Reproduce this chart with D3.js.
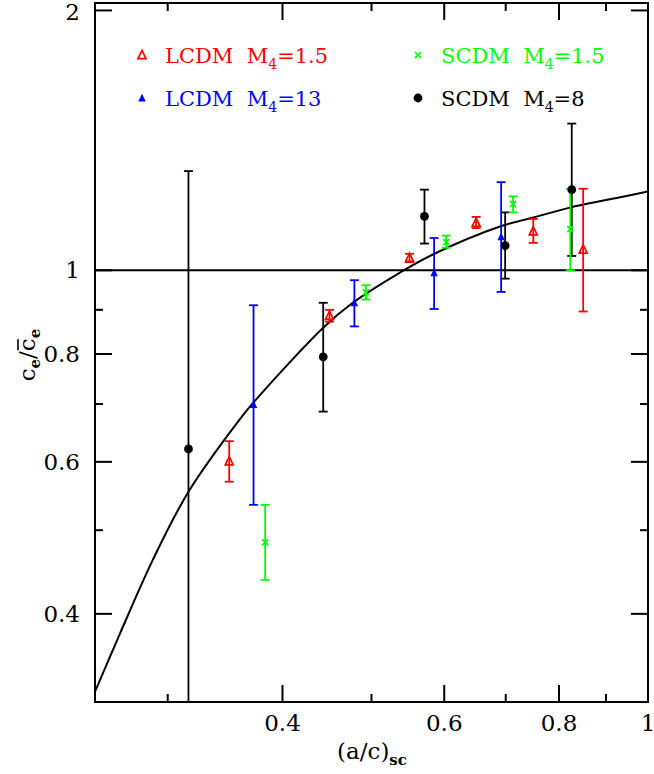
<!DOCTYPE html>
<html>
<head>
<meta charset="utf-8">
<script src="https://cdn.jsdelivr.net/npm/d3@7"></script>
<style>
  html, body { margin: 0; padding: 0; background: #fff; }
  svg { display: block; }
  text { font-family: "DejaVu Serif", "Liberation Serif", serif; }
</style>
</head>
<body>
<script>
// ---- data ----
const redX  = [0.35, 0.45, 0.55, 0.65, 0.75, 0.85];
const redY  = [0.601, 0.886, 1.034, 1.135, 1.110, 1.057];
const redLo = [0.569, 0.872, 1.022, 1.119, 1.076, 0.896];
const redHi = [0.634, 0.900, 1.045, 1.153, 1.147, 1.243];

const blueX  = [0.372, 0.479, 0.585, 0.692];
const blueY  = [0.699, 0.917, 0.993, 1.093];
const blueLo = [0.535, 0.861, 0.902, 0.944];
const blueHi = [0.911, 0.974, 1.090, 1.265];

const greenX  = [0.383, 0.493, 0.603, 0.713, 0.823];
const greenY  = [0.484, 0.943, 1.078, 1.194, 1.116];
const greenLo = [0.438, 0.925, 1.062, 1.167, 1.000];
const greenHi = [0.535, 0.961, 1.097, 1.218, 1.243];

const blackX  = [0.316, 0.443, 0.571, 0.699, 0.826];
const blackY  = [0.621, 0.794, 1.155, 1.068, 1.240];
const blackLo = [0.28, 0.686, 1.074, 0.978, 1.039];
const blackHi = [1.303, 0.917, 1.240, 1.167, 1.479];

const curveX = [0.25, 0.266, 0.289, 0.316, 0.359, 0.372, 0.443, 0.477, 0.537, 0.583, 0.690, 0.750, 0.822, 0.939, 1.0];
const curveY = [0.325, 0.379, 0.462, 0.554, 0.671, 0.703, 0.858, 0.917, 0.994, 1.043, 1.124, 1.151, 1.182, 1.217, 1.234];

const xMajor = [0.4, 0.6, 0.8, 1];
const xMinor = [0.3, 0.5, 0.7, 0.9];
const xTickLabels = ["0.4", "0.6", "0.8", "1"];
const yMajor = [0.4, 0.6, 0.8, 1, 2];
const yMinor = [0.5, 0.7, 0.9];
const yTickLabels = ["0.4", "0.6", "0.8", "1", "2"];

const legendNames = ["LCDM", "LCDM", "SCDM", "SCDM"];
const legendM = ["1.5", "13", "1.5", "8"];

// ---- layout ----
const W = 654, H = 774;
const L = 95, R = 648, T = 3, B = 702;
const x = d3.scaleLog().domain([0.25, 1]).range([L, R]);
const y = d3.scaleLog().domain([0.3162, 2.04]).range([B, T]);

const svg = d3.select("body").append("svg").attr("width", W).attr("height", H);

svg.append("clipPath").attr("id", "clip").append("rect")
  .attr("x", L).attr("y", T).attr("width", R - L).attr("height", B - T);

const plot = svg.append("g").attr("clip-path", "url(#clip)");

// model curve
plot.append("path")
  .datum(curveX.map((v, i) => [v, curveY[i]]))
  .attr("fill", "none").attr("stroke", "#000").attr("stroke-width", 2)
  .attr("d", d3.line().x(d => x(d[0])).y(d => y(d[1])).curve(d3.curveCatmullRom.alpha(0.5)));

// y = 1 reference line
plot.append("line")
  .attr("x1", L).attr("x2", R).attr("y1", y(1)).attr("y2", y(1))
  .attr("stroke", "#000").attr("stroke-width", 2);

// error bars
function errBars(xs, lo, hi, color) {
  const g = plot.append("g").attr("stroke", color).attr("stroke-width", 1.8).attr("fill", "none");
  xs.forEach((v, i) => {
    const cx = x(v);
    g.append("line").attr("x1", cx).attr("x2", cx).attr("y1", y(lo[i])).attr("y2", y(hi[i]));
    g.append("line").attr("x1", cx - 4.5).attr("x2", cx + 4.5).attr("y1", y(lo[i])).attr("y2", y(lo[i]));
    g.append("line").attr("x1", cx - 4.5).attr("x2", cx + 4.5).attr("y1", y(hi[i])).attr("y2", y(hi[i]));
  });
}
errBars(blackX, blackLo, blackHi, "#000");
errBars(blueX, blueLo, blueHi, "#0000ff");
errBars(greenX, greenLo, greenHi, "#00ff00");
errBars(redX, redLo, redHi, "#ff0000");

// marker shapes
function triPath(cx, cy, s) {
  const h = s * 0.9;
  return `M${cx},${cy - h / 2 - 1}L${cx + s / 2},${cy + h / 2}L${cx - s / 2},${cy + h / 2}Z`;
}
function drawOpenTri(g, cx, cy, color) {
  g.append("path").attr("d", triPath(cx, cy, 8)).attr("fill", "none").attr("stroke", color).attr("stroke-width", 1.7);
}
function drawFillTri(g, cx, cy, color) {
  g.append("path").attr("d", triPath(cx, cy, 7.5)).attr("fill", color).attr("stroke", "none");
}
function drawCross(g, cx, cy, color) {
  const s = 3;
  g.append("path").attr("d", `M${cx - s},${cy - s}L${cx + s},${cy + s}M${cx - s},${cy + s}L${cx + s},${cy - s}`)
    .attr("stroke", color).attr("stroke-width", 1.7).attr("fill", "none");
}
function drawDot(g, cx, cy, color) {
  g.append("circle").attr("cx", cx).attr("cy", cy).attr("r", 4.4).attr("fill", color);
}

const mk = plot.append("g");
blackX.forEach((v, i) => drawDot(mk, x(v), y(blackY[i]), "#000"));
blueX.forEach((v, i) => drawFillTri(mk, x(v), y(blueY[i]), "#0000ff"));
greenX.forEach((v, i) => drawCross(mk, x(v), y(greenY[i]), "#00ff00"));
redX.forEach((v, i) => drawOpenTri(mk, x(v), y(redY[i]), "#ff0000"));

// frame
svg.append("rect").attr("x", L).attr("y", T).attr("width", R - L).attr("height", B - T)
  .attr("fill", "none").attr("stroke", "#000").attr("stroke-width", 2);

// ticks (inward, all four sides)
const ax = svg.append("g").attr("stroke", "#000").attr("stroke-width", 2);
const MAJ = 17, MIN = 8;
xMajor.forEach(v => {
  ax.append("line").attr("x1", x(v)).attr("x2", x(v)).attr("y1", B).attr("y2", B - MAJ);
  ax.append("line").attr("x1", x(v)).attr("x2", x(v)).attr("y1", T).attr("y2", T + MAJ);
});
xMinor.forEach(v => {
  ax.append("line").attr("x1", x(v)).attr("x2", x(v)).attr("y1", B).attr("y2", B - MIN);
  ax.append("line").attr("x1", x(v)).attr("x2", x(v)).attr("y1", T).attr("y2", T + MIN);
});
yMajor.forEach(v => {
  ax.append("line").attr("x1", L).attr("x2", L + MAJ).attr("y1", y(v)).attr("y2", y(v));
  ax.append("line").attr("x1", R).attr("x2", R - MAJ).attr("y1", y(v)).attr("y2", y(v));
});
yMinor.forEach(v => {
  ax.append("line").attr("x1", L).attr("x2", L + MIN).attr("y1", y(v)).attr("y2", y(v));
  ax.append("line").attr("x1", R).attr("x2", R - MIN).attr("y1", y(v)).attr("y2", y(v));
});

// tick labels
xMajor.forEach((v, i) => {
  svg.append("text").attr("x", x(v)).attr("y", 731).attr("text-anchor", "middle")
    .attr("font-size", 23).attr("fill", "#000").text(xTickLabels[i]);
});
yMajor.forEach((v, i) => {
  svg.append("text").attr("x", 80).attr("y", Math.max(y(v) + 8, 20)).attr("text-anchor", "end")
    .attr("font-size", 23).attr("fill", "#000").text(yTickLabels[i]);
});

// axis titles
const xt = svg.append("text").attr("x", 372).attr("y", 759).attr("text-anchor", "middle")
  .attr("font-size", 23).attr("fill", "#000");
xt.append("tspan").text("(a/c)");
xt.append("tspan").attr("dy", 6).attr("font-size", 15).attr("font-weight", "bold").text("sc");

const yg = svg.append("g").attr("transform", "translate(35,355) rotate(-90)");
const yt = yg.append("text").attr("font-size", 23).attr("fill", "#000");
yt.append("tspan").text("c");
yt.append("tspan").attr("dy", 5).attr("font-size", 15).attr("font-weight", "bold").text("e");
yt.append("tspan").attr("dy", -5).text("/c");
yt.append("tspan").attr("dy", 5).attr("font-size", 15).attr("font-weight", "bold").text("e");
const ytLen = yt.node().getComputedTextLength();
yt.attr("x", -ytLen / 2);
// overline above the second "c"
const s3 = yt.node().getStartPositionOfChar(3);
const e3 = yt.node().getEndPositionOfChar(3);
yg.append("line").attr("x1", s3.x + 1).attr("x2", e3.x - 1).attr("y1", -17).attr("y2", -17)
  .attr("stroke", "#000").attr("stroke-width", 1.6);

// legend
const legendColors = ["#ff0000", "#0000ff", "#00ff00", "#000"];
const legendMarkers = [drawOpenTri, drawFillTri, drawCross, drawDot];
const legX = [142, 142, 418, 418];
const legY = [55, 98, 55, 98];
const lg = svg.append("g");
legendNames.forEach((name, i) => {
  legendMarkers[i](lg, legX[i], legY[i], legendColors[i]);
  const t = lg.append("text").attr("x", legX[i] + 23).attr("y", legY[i] + 8)
    .attr("font-size", 21).attr("fill", legendColors[i]);
  t.append("tspan").text(name + "\u00a0\u00a0M");
  t.append("tspan").attr("dy", 6).attr("font-size", 14).text("4");
  t.append("tspan").attr("dy", -6).text("=" + legendM[i]);
});
</script>
</body>
</html>
